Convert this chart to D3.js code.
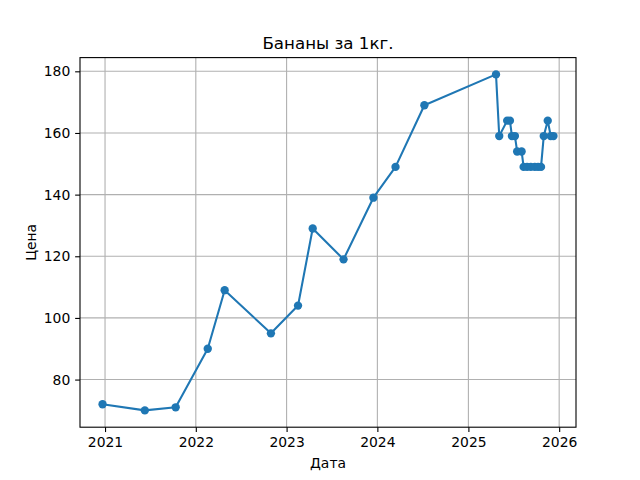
<!DOCTYPE html>
<html><head><meta charset="utf-8">
<script src="https://cdn.jsdelivr.net/npm/d3@7"></script>
<style>body{margin:0;background:#fff}svg{display:block}text{font-family:"DejaVu Sans",sans-serif}</style>
</head><body>
<svg id="c" width="640" height="480"></svg>
<script>
const dates = ["2020-12-22","2021-06-10","2021-10-12","2022-02-18","2022-04-27","2022-10-30","2023-02-16","2023-04-16","2023-08-18","2023-12-16","2024-03-14","2024-07-08",
  "2025-04-22","2025-05-05","2025-06-06","2025-06-17","2025-06-25","2025-07-07","2025-07-16","2025-08-03","2025-08-11","2025-08-25","2025-09-09","2025-09-25","2025-10-08","2025-10-20","2025-10-31","2025-11-16","2025-11-28","2025-12-09"];
const prices = [72,70,71,90,109,95,104,129,119,139,149,169,
  179,159,164,164,159,159,154,154,149,149,149,149,149,149,159,164,159,159];
const yTicks = [80,100,120,140,160,180];
const xTickYears = [2021,2022,2023,2024,2025,2026];
const title = "Бананы за 1кг.";
const xLabel = "Дата";
const yLabel = "Цена";

const parse = d3.timeParse("%Y-%m-%d");
const data = dates.map((d,i)=>({t:parse(d), v:prices[i]}));
const L=80, R=576, T=57.6, B=427.2;
const svg = d3.select("#c");
const tExt = d3.extent(data,d=>d.t);
const span = tExt[1]-tExt[0];
const x = d3.scaleTime().domain([new Date(+tExt[0]-span*0.05), new Date(+tExt[1]+span*0.05)]).range([L,R]);
const vExt = d3.extent(prices);
const vs = vExt[1]-vExt[0];
const y = d3.scaleLinear().domain([vExt[0]-vs*0.05, vExt[1]+vs*0.05]).range([B,T]);
const xt = xTickYears.map(yr=>new Date(yr,0,1));

const g = svg.append("g");
// grid
g.selectAll(".gx").data(xt).join("line").attr("x1",d=>x(d)).attr("x2",d=>x(d)).attr("y1",T).attr("y2",B).attr("stroke","#b0b0b0").attr("stroke-width",1.1);
g.selectAll(".gy").data(yTicks).join("line").attr("y1",d=>y(d)).attr("y2",d=>y(d)).attr("x1",L).attr("x2",R).attr("stroke","#b0b0b0").attr("stroke-width",1.1);

// line
g.append("path").datum(data).attr("fill","none").attr("stroke","#1f77b4").attr("stroke-width",2.08).attr("stroke-linejoin","round")
  .attr("d",d3.line().x(d=>x(d.t)).y(d=>y(d.v)));
g.selectAll("circle").data(data).join("circle").attr("cx",d=>x(d.t)).attr("cy",d=>y(d.v)).attr("r",4.17).attr("fill","#1f77b4");

// axes
const xa = svg.append("g").attr("transform",`translate(0,${B})`).call(d3.axisBottom(x).tickValues(xt).tickFormat(d3.timeFormat("%Y")).tickSize(4.86).tickPadding(4.86));
const ya = svg.append("g").attr("transform",`translate(${L},0)`).call(d3.axisLeft(y).tickValues(yTicks).tickSize(4.86).tickPadding(4.86));
[xa,ya].forEach(a=>{a.select(".domain").remove();a.selectAll("text").attr("font-size",13.9).attr("font-family","DejaVu Sans").attr("fill","#000");a.selectAll("line").attr("stroke","#000").attr("stroke-width",1.1);});
svg.append("rect").attr("x",L).attr("y",T).attr("width",R-L).attr("height",B-T).attr("fill","none").attr("stroke","#000").attr("stroke-width",1.1);

svg.append("text").attr("x",(L+R)/2).attr("y",T-8.5).attr("text-anchor","middle").attr("font-size",16.67).text(title);
svg.append("text").attr("x",(L+R)/2).attr("y",468).attr("text-anchor","middle").attr("font-size",13.9).text(xLabel);
svg.append("text").attr("transform",`translate(36,${(T+B)/2}) rotate(-90)`).attr("text-anchor","middle").attr("font-size",13.9).text(yLabel);
</script>
</body></html>
